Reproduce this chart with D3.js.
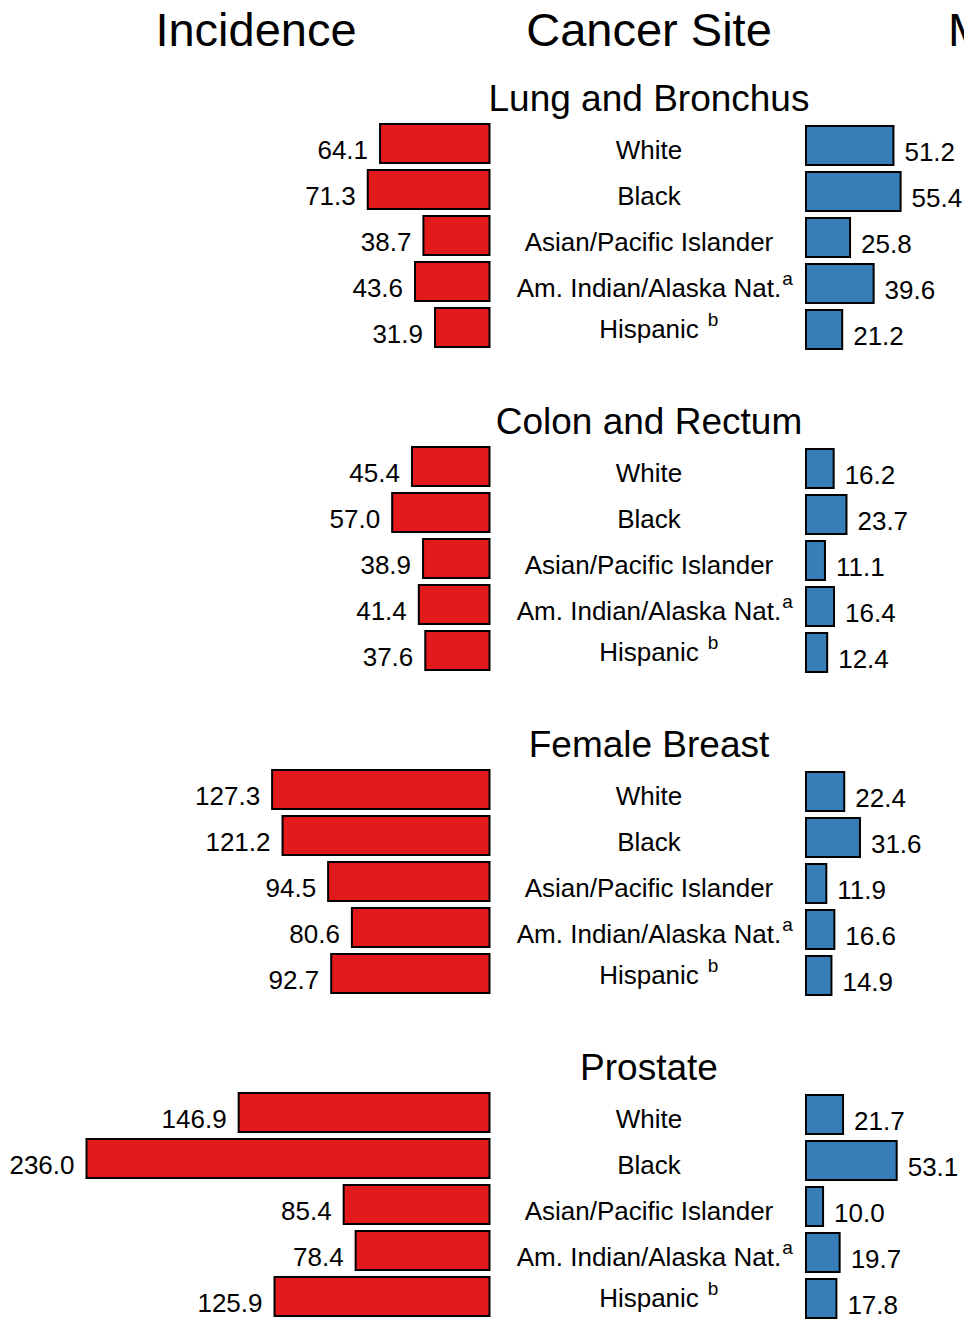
<!DOCTYPE html>
<html>
<head>
<meta charset="utf-8">
<script src="https://cdn.jsdelivr.net/npm/d3@7"></script>
<style>
  html, body { margin: 0; padding: 0; background: #ffffff; }
  svg { display: block; }
</style>
</head>
<body>
<div id="chart"></div>
<script>
// Cancer incidence vs mortality by race/ethnicity, per 100,000

const headers = ["Incidence", "Cancer Site", "Mortality"];
const sites = ["Lung and Bronchus", "Colon and Rectum", "Female Breast", "Prostate"];
const races = ["White", "Black", "Asian/Pacific Islander", "Am. Indian/Alaska Nat.", "Hispanic"];
const raceNotes = ["", "", "", "a", "b"];

const incidence = [
  [64.1, 71.3, 38.7, 43.6, 31.9],
  [45.4, 57.0, 38.9, 41.4, 37.6],
  [127.3, 121.2, 94.5, 80.6, 92.7],
  [146.9, 236.0, 85.4, 78.4, 125.9]
];
const mortality = [
  [51.2, 55.4, 25.8, 39.6, 21.2],
  [16.2, 23.7, 11.1, 16.4, 12.4],
  [22.4, 31.6, 11.9, 16.6, 14.9],
  [21.7, 53.1, 10.0, 19.7, 17.8]
];

(function () {
  "use strict";

  const W = 964, H = 1321;
  const FONT = "'Liberation Sans', Arial, Helvetica, sans-serif";
  const RED = "#E31A1C", BLUE = "#377EB8";

  const incRight = 489.5;   // incidence bars grow leftwards from here
  const morLeft = 806;      // mortality bars grow rightwards from here
  const midX = 649;         // centre of the site / race column

  const svg = d3.select("#chart").append("svg")
    .attr("width", W).attr("height", H)
    .style("font-family", FONT);

  // one shared length scale for both sides
  const len = d3.scaleLinear().domain([0, 236]).range([0, 403]);

  // group blocks and rows inside each block
  const groupY = d3.scalePoint().domain(sites).range([124, 124 + 323 * 3]);
  const rowY = d3.scaleBand().domain(races).range([0, 223]).paddingInner(7 / 46).paddingOuter(0);
  const bh = rowY.bandwidth();

  // column headers
  svg.append("text").attr("x", 256).attr("y", 46).attr("text-anchor", "middle")
    .attr("font-size", 47).text(headers[0]);
  svg.append("text").attr("x", midX).attr("y", 46).attr("text-anchor", "middle")
    .attr("font-size", 47).text(headers[1]);
  svg.append("text").attr("x", 948).attr("y", 46).attr("text-anchor", "start")
    .attr("font-size", 47).text(headers[2]);

  sites.forEach((site, gi) => {
    const g = svg.append("g").attr("transform", `translate(0, ${groupY(site)})`);

    g.append("text").attr("x", midX).attr("y", -13)
      .attr("text-anchor", "middle").attr("font-size", 37).text(site);

    const rows = races.map((r, i) => ({
      race: r, note: raceNotes[i], inc: incidence[gi][i], mor: mortality[gi][i]
    }));

    // incidence bars (red, leftwards)
    g.selectAll("rect.inc").data(rows).enter().append("rect")
      .attr("class", "inc")
      .attr("x", d => incRight - len(d.inc))
      .attr("y", d => rowY(d.race))
      .attr("width", d => len(d.inc))
      .attr("height", bh)
      .attr("fill", RED).attr("stroke", "#000").attr("stroke-width", 2);

    g.selectAll("text.incv").data(rows).enter().append("text")
      .attr("class", "incv")
      .attr("x", d => incRight - len(d.inc) - 12)
      .attr("y", d => rowY(d.race) + bh / 2 + 15)
      .attr("text-anchor", "end").attr("font-size", 26)
      .text(d => d.inc.toFixed(1));

    // mortality bars (blue, rightwards)
    g.selectAll("rect.mor").data(rows).enter().append("rect")
      .attr("class", "mor")
      .attr("x", morLeft)
      .attr("y", d => rowY(d.race) + 2)
      .attr("width", d => len(d.mor))
      .attr("height", bh)
      .attr("fill", BLUE).attr("stroke", "#000").attr("stroke-width", 2);

    g.selectAll("text.morv").data(rows).enter().append("text")
      .attr("class", "morv")
      .attr("x", d => morLeft + len(d.mor) + 11)
      .attr("y", d => rowY(d.race) + 2 + bh / 2 + 15)
      .attr("text-anchor", "start").attr("font-size", 26)
      .text(d => d.mor.toFixed(1));

    // race labels with superscript notes
    rows.forEach(d => {
      const by = rowY(d.race) + bh / 2 + (d.note === "b" ? 10 : 15);
      const t = g.append("text").attr("x", midX).attr("y", by)
        .attr("text-anchor", "middle").attr("font-size", 26).text(d.race);
      if (d.note) {
        const w = t.node().getComputedTextLength();
        g.append("text")
          .attr("x", midX + w / 2 + (d.note === "b" ? 9 : 1))
          .attr("y", by - 12)
          .attr("font-size", 19).text(d.note);
      }
    });
  });
})();
</script>
</body>
</html>
